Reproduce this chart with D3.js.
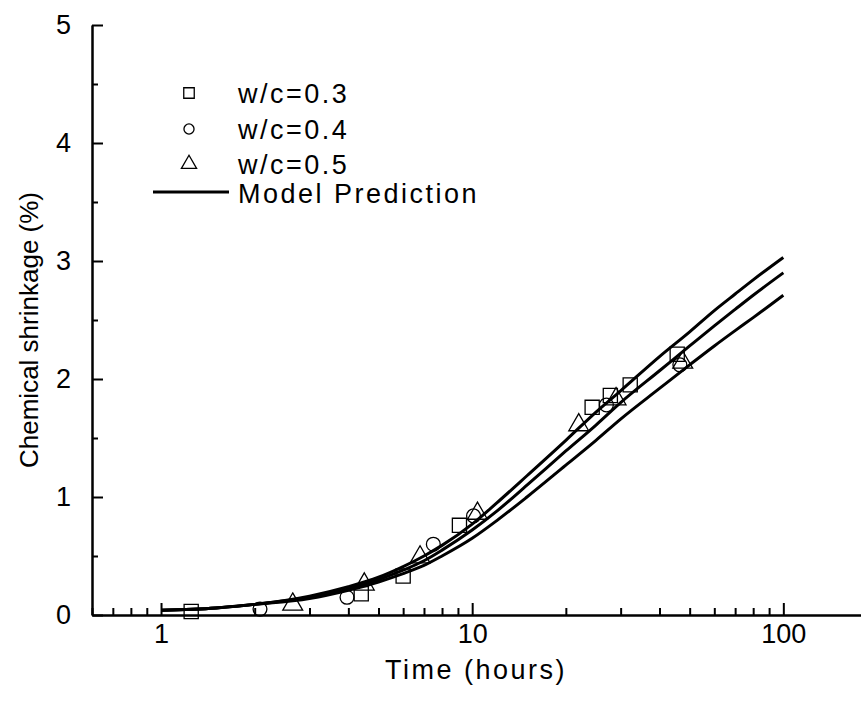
<!DOCTYPE html>
<html>
<head>
<meta charset="utf-8">
<script src="https://cdn.jsdelivr.net/npm/d3@7"></script>
<style>
  body { margin: 0; background: #fff; }
  svg { display: block; }
  text { font-family: "Liberation Sans", Arial, sans-serif; fill: #000; }
</style>
</head>
<body>
<div id="chart"></div>
<script>
// model curves
var modelTimes = [1, 1.5, 2, 3, 4, 5, 6, 7, 8, 10, 12, 15, 20, 25, 30, 40, 50, 60, 70, 80, 100];
var modelTop = [0.04, 0.06, 0.09, 0.16, 0.24, 0.32, 0.41, 0.50, 0.59, 0.77, 0.95, 1.18, 1.48, 1.72, 1.90, 2.19, 2.40, 2.58, 2.72, 2.84, 3.03];
var modelMid = [0.04, 0.06, 0.09, 0.15, 0.22, 0.30, 0.38, 0.46, 0.55, 0.72, 0.88, 1.10, 1.39, 1.61, 1.80, 2.07, 2.28, 2.45, 2.59, 2.71, 2.90];
var modelLow = [0.04, 0.06, 0.09, 0.14, 0.21, 0.28, 0.35, 0.42, 0.50, 0.65, 0.80, 1.00, 1.27, 1.48, 1.66, 1.92, 2.12, 2.28, 2.41, 2.52, 2.71];

// measured points
var wc03Times = [1.25, 4.4, 6.0, 9.1, 24.3, 27.8, 32.2, 45.6];
var wc03Values = [0.03, 0.18, 0.33, 0.76, 1.76, 1.86, 1.95, 2.21];
var wc04Times = [2.08, 3.96, 7.5, 10.1, 27.0, 46.5];
var wc04Values = [0.05, 0.15, 0.60, 0.84, 1.78, 2.12];
var wc05Times = [2.65, 4.5, 6.8, 10.4, 22.0, 29.0, 47.5];
var wc05Values = [0.09, 0.26, 0.49, 0.86, 1.61, 1.83, 2.14];

var legendLabels = ["w/c=0.3", "w/c=0.4", "w/c=0.5", "Model Prediction"];
var xMajorTicks = [1, 10, 100];
var yMajorTicks = [0, 1, 2, 3, 4, 5];

var svgWidth = 861;
var svgHeight = 707;

var svg = d3.select("#chart")
  .append("svg")
  .attr("width", svgWidth)
  .attr("height", svgHeight);

// scales
var xScale = d3.scaleLog()
  .domain([0.6, 200])
  .range([92, 877]);

var yScale = d3.scaleLinear()
  .domain([0, 5])
  .range([615, 25]);

// minor ticks
var xMinor = [];
[0.1, 1, 10, 100].forEach(function(d) {
  for (var k = 2; k <= 9; k++) {
    var v = d * k;
    if (v >= 0.6 && v <= 200 && xMajorTicks.indexOf(v) < 0) xMinor.push(v);
  }
});
var yMinor = [0.5, 1.5, 2.5, 3.5, 4.5];

// axes
var xAxis = d3.axisBottom(xScale)
  .tickValues(xMajorTicks)
  .tickFormat(d3.format("d"))
  .tickSizeInner(-12)
  .tickSizeOuter(0)
  .tickPadding(9);

var xAxisMinor = d3.axisBottom(xScale)
  .tickValues(xMinor)
  .tickFormat("")
  .tickSizeInner(-7)
  .tickSizeOuter(0);

var yAxis = d3.axisLeft(yScale)
  .tickValues(yMajorTicks)
  .tickFormat(d3.format("d"))
  .tickSizeInner(-11)
  .tickSizeOuter(0)
  .tickPadding(21);

var yAxisMinor = d3.axisLeft(yScale)
  .tickValues(yMinor)
  .tickFormat("")
  .tickSizeInner(-6)
  .tickSizeOuter(0);

svg.append("g")
  .attr("transform", "translate(0, 615)")
  .call(xAxis);
svg.append("g")
  .attr("transform", "translate(0, 615)")
  .call(xAxisMinor);

svg.append("g")
  .attr("transform", "translate(92, 0)")
  .call(yAxis);
svg.append("g")
  .attr("transform", "translate(92, 0)")
  .call(yAxisMinor);

svg.selectAll(".domain").attr("stroke", "#000").attr("stroke-width", 2);
svg.selectAll(".tick line").attr("stroke", "#000").attr("stroke-width", 2);
svg.selectAll(".tick text")
  .style("font-family", "'Liberation Sans', Arial, sans-serif")
  .style("font-size", "27px")
  .attr("fill", "#000");

// model lines
var line = d3.line()
  .x(function(d) { return xScale(d[0]); })
  .y(function(d) { return yScale(d[1]); })
  .curve(d3.curveMonotoneX);

[modelTop, modelMid, modelLow].forEach(function(vals) {
  svg.append("path")
    .datum(modelTimes.map(function(t, i) { return [t, vals[i]]; }))
    .attr("d", line)
    .attr("fill", "none")
    .attr("stroke", "#000")
    .attr("stroke-width", 3);
});

// markers
var symSquare = d3.symbol().type(d3.symbolSquare);
var symCircle = d3.symbol().type(d3.symbolCircle);
var symTriangle = d3.symbol().type(d3.symbolTriangle);

function drawPoints(times, values, sym, size) {
  svg.append("g")
    .selectAll("path")
    .data(times.map(function(t, i) { return [t, values[i]]; }))
    .enter()
    .append("path")
    .attr("transform", function(d) { return "translate(" + xScale(d[0]) + "," + yScale(d[1]) + ")"; })
    .attr("d", sym.size(size)())
    .attr("fill", "none")
    .attr("stroke", "#000")
    .attr("stroke-width", 1.3);
}

drawPoints(wc03Times, wc03Values, symSquare, 200);
drawPoints(wc04Times, wc04Values, symCircle, 150);
drawPoints(wc05Times, wc05Values, symTriangle, 170);

// legend
var legend = svg.append("g");
var legendSyms = [symSquare.size(110), symCircle.size(80), symTriangle.size(100)];
var legendY = [93, 129, 164];
legendSyms.forEach(function(s, i) {
  legend.append("path")
    .attr("transform", "translate(189," + legendY[i] + ")")
    .attr("d", s())
    .attr("fill", "none")
    .attr("stroke", "#000")
    .attr("stroke-width", 1.3);
});
legend.append("line")
  .attr("x1", 153).attr("x2", 229)
  .attr("y1", 192).attr("y2", 192)
  .attr("stroke", "#000")
  .attr("stroke-width", 3);

var legendBase = [103, 139, 174, 203];
legendLabels.forEach(function(txt, i) {
  legend.append("text")
    .attr("x", 238)
    .attr("y", legendBase[i])
    .style("font-size", "27px")
    .style("letter-spacing", "2.5px")
    .text(txt);
});

// axis titles
svg.append("text")
  .attr("x", 476)
  .attr("y", 679)
  .attr("text-anchor", "middle")
  .style("font-size", "27px")
  .style("letter-spacing", "2.5px")
  .text("Time (hours)");

svg.append("text")
  .attr("transform", "translate(38, 330) rotate(-90)")
  .attr("text-anchor", "middle")
  .style("font-size", "26px")
  .text("Chemical shrinkage (%)");
</script>
</body>
</html>
